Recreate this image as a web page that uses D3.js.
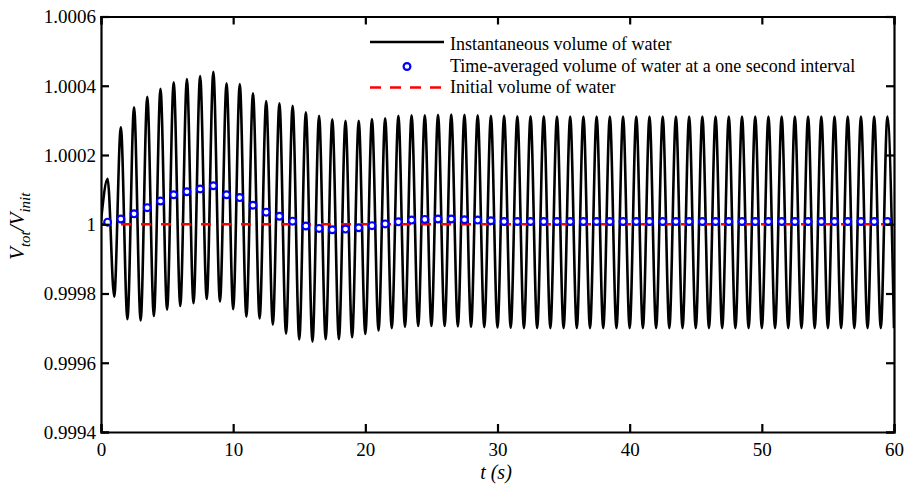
<!DOCTYPE html>
<html>
<head>
<meta charset="utf-8">
<script src="https://cdn.jsdelivr.net/npm/d3@7/dist/d3.min.js"></script>
<style>
  html, body { margin: 0; padding: 0; background: #fff; }
  svg text { font-family: "Liberation Serif", "Times New Roman", serif; fill: #000; }
</style>
</head>
<body>
<svg id="chart" width="907" height="487"></svg>
<script>
// ---------------- data ----------------
// Peaks of the instantaneous volume, one per second (t = 0.5, 1.5, ..., 59.5)
const peakValues = [
  1.000131, 1.000280, 1.000338, 1.000368, 1.000391, 1.000410, 1.000419, 1.000428, 1.000440, 1.000407,
  1.000405, 1.000378, 1.000356, 1.000349, 1.000342, 1.000323, 1.000313, 1.000303, 1.000299, 1.000299,
  1.000304, 1.000306, 1.000313, 1.000315, 1.000315, 1.000316, 1.000317, 1.000316, 1.000315, 1.000313,
  1.000313, 1.000312, 1.000312, 1.000312, 1.000311, 1.000311, 1.000311, 1.000311, 1.000311, 1.000311,
  1.000311, 1.000311, 1.000311, 1.000311, 1.000311, 1.000311, 1.000311, 1.000311, 1.000311, 1.000311,
  1.000311, 1.000311, 1.000311, 1.000311, 1.000311, 1.000311, 1.000311, 1.000311, 1.000311, 1.000311
];
// Troughs of the instantaneous volume (t = 1, 2, ..., 60)
const troughValues = [
  0.999791, 0.999726, 0.999722, 0.999735, 0.999753, 0.999764, 0.999772, 0.999784, 0.999777, 0.999755,
  0.999733, 0.999728, 0.999710, 0.999684, 0.999667, 0.999661, 0.999668, 0.999668, 0.999674, 0.999683,
  0.999693, 0.999700, 0.999704, 0.999706, 0.999706, 0.999706, 0.999705, 0.999704, 0.999703, 0.999702,
  0.999701, 0.999700, 0.999700, 0.999700, 0.999700, 0.999700, 0.999700, 0.999700, 0.999700, 0.999700,
  0.999700, 0.999700, 0.999700, 0.999700, 0.999700, 0.999700, 0.999700, 0.999700, 0.999700, 0.999700,
  0.999700, 0.999700, 0.999700, 0.999700, 0.999700, 0.999700, 0.999700, 0.999700, 0.999700, 0.999700
];
const startValue = 1.00001;   // instantaneous volume at t = 0
// Time-averaged volume at a one second interval (t = 0.5, 1.5, ..., 59.5)
const avgValues = [
  1.000006, 1.000015, 1.000030, 1.000048, 1.000067, 1.000085, 1.000094, 1.000102, 1.000111, 1.000085,
  1.000077, 1.000055, 1.000035, 1.000023, 1.000009, 0.999995, 0.999988, 0.999984, 0.999986, 0.999990,
  0.999996, 1.000001, 1.000007, 1.000012, 1.000014, 1.000015, 1.000015, 1.000013, 1.000012, 1.000010,
  1.000008, 1.000008, 1.000008, 1.000008, 1.000008, 1.000008, 1.000008, 1.000008, 1.000008, 1.000008,
  1.000008, 1.000008, 1.000008, 1.000008, 1.000008, 1.000008, 1.000008, 1.000008, 1.000008, 1.000008,
  1.000008, 1.000008, 1.000008, 1.000008, 1.000008, 1.000008, 1.000008, 1.000008, 1.000008, 1.000008
];
const initialVolume = 1;
const xTicks = [0, 10, 20, 30, 40, 50, 60];
const yTicks = [0.9994, 0.9996, 0.9998, 1, 1.0002, 1.0004, 1.0006];
const yTickLabels = ["0.9994", "0.9996", "0.9998", "1", "1.0002", "1.0004", "1.0006"];
const legendLabels = [
  "Instantaneous volume of water",
  "Time-averaged volume of water at a one second interval",
  "Initial volume of water"
];

// ---------------- build series ----------------
const peakTimes = d3.range(peakValues.length).map(i => i + 0.5);
const troughTimes = d3.range(troughValues.length).map(i => i + 1);
const avgTimes = d3.range(avgValues.length).map(i => i + 0.5);

const instSeries = [[0, startValue]];
for (let i = 0; i < peakValues.length; i++) {
  instSeries.push([peakTimes[i], peakValues[i]]);
  instSeries.push([troughTimes[i], troughValues[i]]);
}
const avgSeries = avgTimes.map((t, i) => [t, avgValues[i]]);

// ---------------- layout ----------------
const W = 907, H = 487;
const margin = { left: 101, right: 13, top: 16.5, bottom: 55 };
const iw = W - margin.left - margin.right;
const ih = H - margin.top - margin.bottom;

const svg = d3.select("#chart");
const g = svg.append("g").attr("transform", `translate(${margin.left},${margin.top})`);

const x = d3.scaleLinear().domain([0, 60]).range([0, iw]);
const y = d3.scaleLinear().domain([0.9994, 1.0006]).range([ih, 0]);

svg.append("defs").append("clipPath").attr("id", "clip")
  .append("rect").attr("x", 0).attr("y", 0).attr("width", iw).attr("height", ih);

const plot = g.append("g").attr("clip-path", "url(#clip)");

// instantaneous line
const line = d3.line().x(d => x(d[0])).y(d => y(d[1])).curve(d3.curveMonotoneX);
plot.append("path").datum(instSeries)
  .attr("d", line).attr("fill", "none").attr("stroke", "#000")
  .attr("stroke-width", 2.6).attr("stroke-linejoin", "round");

// initial volume dashed line
plot.append("line")
  .attr("x1", x(0)).attr("x2", x(60))
  .attr("y1", y(initialVolume)).attr("y2", y(initialVolume))
  .attr("stroke", "#ff0000").attr("stroke-width", 2.4).attr("stroke-dasharray", "10,10");

// time-averaged circles
plot.selectAll("circle.avg").data(avgSeries).enter().append("circle")
  .attr("class", "avg")
  .attr("cx", d => x(d[0])).attr("cy", d => y(d[1])).attr("r", 3.4)
  .attr("fill", "#fff").attr("stroke", "#0000ff").attr("stroke-width", 2.2);

// ---------------- axes ----------------
const tickLen = 8;
const fontSize = 19;

const axB = g.append("g").attr("transform", `translate(0,${ih})`)
  .call(d3.axisBottom(x).tickValues(xTicks).tickSize(-tickLen).tickPadding(11).tickFormat(d3.format("d")));
const axT = g.append("g")
  .call(d3.axisTop(x).tickValues(xTicks).tickSize(-tickLen).tickFormat(""));
const axL = g.append("g")
  .call(d3.axisLeft(y).tickValues(yTicks).tickSize(-tickLen).tickPadding(5)
    .tickFormat((d, i) => yTickLabels[i]));
const axR = g.append("g").attr("transform", `translate(${iw},0)`)
  .call(d3.axisRight(y).tickValues(yTicks).tickSize(-tickLen).tickFormat(""));

[axB, axT, axL, axR].forEach(a => {
  a.select(".domain").attr("stroke", "#000").attr("stroke-width", 2.2);
  a.selectAll(".tick line").attr("stroke", "#000").attr("stroke-width", 2.2);
  a.selectAll(".tick text").attr("font-size", fontSize)
    .attr("font-family", "'Liberation Serif', 'Times New Roman', serif").attr("fill", "#000");
});
axL.selectAll(".tick text").attr("dy", "0.34em");
axB.selectAll(".tick text").attr("dy", "0.68em");

// axis titles
svg.append("text")
  .attr("x", 496).attr("y", 479)
  .attr("text-anchor", "middle").attr("font-size", 20).attr("font-style", "italic")
  .text("t (s)");

const yl = svg.append("text")
  .attr("transform", `translate(24,${margin.top + y(1) + 2}) rotate(-90)`)
  .attr("text-anchor", "middle").attr("font-style", "italic").attr("font-size", 21);
yl.append("tspan").text("V");
yl.append("tspan").attr("font-size", 15).attr("dy", 6).text("tot");
yl.append("tspan").attr("dy", -6).text("/V");
yl.append("tspan").attr("font-size", 15).attr("dy", 6).text("init");

// ---------------- legend ----------------
const legend = svg.append("g");
const lgX0 = 370, lgX1 = 444, lgText = 450;
const rowBase = [50, 71.5, 93];
legend.append("line").attr("x1", lgX0).attr("x2", lgX1).attr("y1", 42).attr("y2", 42)
  .attr("stroke", "#000").attr("stroke-width", 2.4);
legend.append("circle").attr("cx", (lgX0 + lgX1) / 2).attr("cy", 66.5).attr("r", 3.4)
  .attr("fill", "#fff").attr("stroke", "#0000ff").attr("stroke-width", 2.2);
legend.append("line").attr("x1", lgX0).attr("x2", lgX1).attr("y1", 87.5).attr("y2", 87.5)
  .attr("stroke", "#ff0000").attr("stroke-width", 2.4).attr("stroke-dasharray", "11,9");
legend.selectAll("text.lg").data(legendLabels).enter().append("text")
  .attr("class", "lg")
  .attr("x", lgText).attr("y", (d, i) => rowBase[i])
  .attr("font-size", 18).text(d => d);
</script>
</body>
</html>
